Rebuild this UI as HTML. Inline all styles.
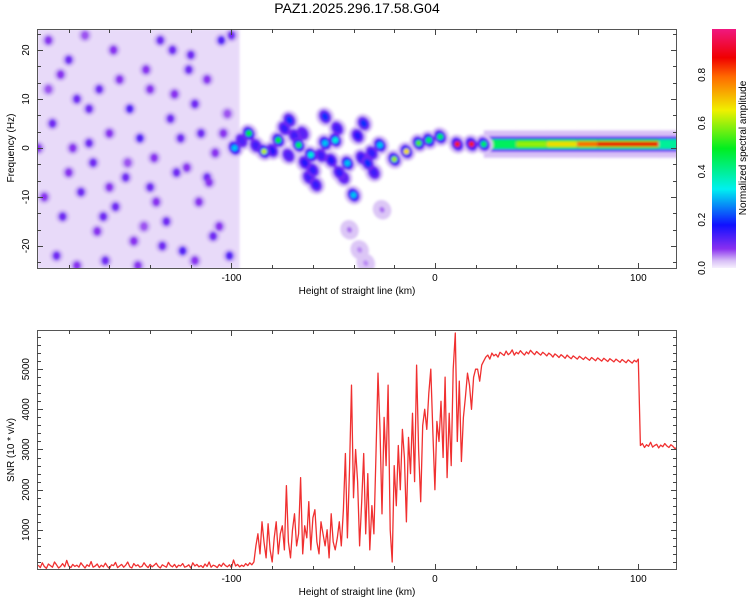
<!DOCTYPE html>
<html><head><meta charset="utf-8"><style>
html,body{margin:0;padding:0;background:#fff;width:750px;height:600px;overflow:hidden}
svg{display:block;font-family:"Liberation Sans",sans-serif}
</style></head><body>
<svg id="c" width="750" height="600" viewBox="0 0 750 600" xmlns="http://www.w3.org/2000/svg">
<defs>
<filter id="blur" x="-50%" y="-50%" width="200%" height="200%"><feGaussianBlur stdDeviation="1.2"/></filter>
<clipPath id="clipTop"><rect x="37" y="29" width="640" height="240"/></clipPath>
<clipPath id="clipBot"><rect x="37" y="330" width="640" height="240"/></clipPath>
<linearGradient id="cbar" x1="0" y1="1" x2="0" y2="0">
<stop offset="0" stop-color="#f6f0fd"/><stop offset="0.03" stop-color="#d8c0f6"/>
<stop offset="0.08" stop-color="#8a30f0"/><stop offset="0.18" stop-color="#1010ff"/>
<stop offset="0.33" stop-color="#00f0f0"/><stop offset="0.5" stop-color="#00ee20"/>
<stop offset="0.66" stop-color="#f0f000"/><stop offset="0.8" stop-color="#ff6a00"/>
<stop offset="0.88" stop-color="#f00000"/><stop offset="1" stop-color="#f01880"/>
</linearGradient>
</defs>
<text x="357" y="13" font-size="14" text-anchor="middle">PAZ1.2025.296.17.58.G04</text>
<g id="topPanel"></g>
<g id="botPanel"></g>
<g id="cbPanel"></g>
</svg>
<script>
// ---- data ----
const xDomain = [-195.6, 119];
const fDomain = [-24.7, 24.3];
const snrDomain = [0, 5975];
const xTicks = [-100, 0, 100];
const fTicks = [-20, -10, 0, 10, 20];
const snrTicks = [1000, 2000, 3000, 4000, 5000];
const cbTicks = [0.0, 0.2, 0.4, 0.6, 0.8];
// noise blobs
const noiseKm = [-190,-180,-172,-165,-158,-150,-142,-135,-128,-120,-112,-105,-100,-188,-178,-168,-160,-152,-145,-138,-130,-122,-115,-108,-102,-192,-183,-174,-166,-157,-148,-140,-132,-124,-116,-109,-101,-186,-176,-162,-146,-134,-118,-190,-170,-155,-125,-112,-180,-160,-140,-118,-184,-163,-137,-121,-106,-176,-151,-129,-111,-195,-170,-143,-127,-104];
const noiseHz = [22,18,23,12,20,8,16,22,11,19,14,22,23,5,0,-3,3,-6,2,-2,6,-4,3,-1,7,-10,-14,-9,-17,-12,-19,-8,-15,-21,-11,-18,-22,-22,-24,-23,-24,-20,-23,12,8,14,2,-6,-5,-8,12,9,15,-14,-11,16,-16,10,-3,20,-7,0,1,-16,-5,3,-8];
const noiseAmp = [.15,.2,.12,.2,.15,.25,.15,.2,.15,.2,.15,.25,.2,.2,.15,.2,.15,.2,.25,.15,.2,.15,.2,.15,.12,.15,.2,.2,.15,.2,.15,.2,.2,.25,.15,.2,.25,.2,.15,.2,.15,.2,.15,.12,.2,.15,.2,.2,.15,.15,.15,.2,.15,.2,.15,.2,.15,.2,.12,.2,.15,.15,.2,.12,.2,.15];
// signal blobs
const sigKm = [-91.5,-98.5,-84,-77,-71.5,-67,-61,-60,-58.5,-54,-49,-54,-43,-40,-35,-27,-33,-20,-14,-8,-3,2.6,11,18,24,-26,-42,-37,-34,-45,-65,-30,-74,-69,-64,-56,-51,-47,-38,-31,-88,-80,-95,-72,-62,-48,-36];
const sigHz = [3.0,0,-0.7,1.6,5.7,0.6,-1.4,-4.5,-7.5,6.4,1.6,1.0,-3.1,-9.6,5.0,0.6,-3.1,-2.3,-0.7,1.0,1.6,2.3,0.8,0.8,0.8,-12.6,-16.7,-20.8,-23.5,-6,3,-5,4,2.5,-3,-1.5,-2.5,-5,2.5,-1,0.5,-0.5,1.5,-1.5,-6,4,-2];
const sigAmp = [0.5,0.3,0.62,0.5,0.2,0.45,0.35,0.15,0.15,0.2,0.35,0.3,0.3,0.3,0.2,0.3,0.2,0.6,0.68,0.55,0.45,0.45,0.86,0.86,0.45,0.06,0.06,0.05,0.05,0.12,0.12,0.14,0.15,0.14,0.16,0.14,0.16,0.15,0.16,0.15,0.14,0.16,0.13,0.13,0.14,0.14,0.15];
// ridge segments along 0.8 Hz
const ridgeStart = [24,40,55,70,80,110];
const ridgeEnd = [40,55,70,80,110,119];
const ridgeAmp = [0.45,0.6,0.68,0.8,0.88,0.4];
const ridgeHz = 0.8;
// SNR series, 1 km steps starting at -195
const snrStart = -195;
const snrVals = [
120,60,180,90,40,150,110,70,200,130,50,90,160,80,240,100,60,140,90,120,
70,180,110,50,130,90,210,70,100,150,60,120,80,170,90,40,130,110,190,60,
100,140,70,120,200,80,50,160,100,130,70,90,180,110,60,140,80,120,170,90,
50,130,100,70,190,110,80,140,60,120,100,160,70,90,130,50,180,100,140,80,
110,60,150,90,200,70,120,100,60,140,90,170,110,80,130,60,250,100,140,80,
120,90,160,110,180,130,200,
600,900,400,1200,700,300,1150,500,
200,800,1200,400,900,1100,500,2100,700,300,1000,1400,600,900,2300,400,1100,800,1700,500,1300,1500,700,400,1200,900,600,1000,300,1400,700,500,800,1200,600,
1500,2900,800,2500,4600,1800,3000,2200,600,1700,2900,900,2400,500,1600,900,2800,4900,3500,1400,3800,2600,4600,1000,200,
2600,1600,3100,2000,3500,2800,1200,3300,2400,3900,2200,5100,3000,1700,3600,4000,3500,4400,5000,3400,
2000,3700,3200,4200,2800,4800,2300,3900,2600,5000,5900,3200,4700,2700,3800,4300,4900,4600,4000,4800,5000,5000,4700,5100,5200,
5300,5350,5250,5400,5330,5370,5300,5420,5380,5340,5450,5360,5400,5480,5350,5420,5380,5460,5400,5350,
5430,5380,5470,5410,5360,5440,5390,5350,5420,5380,5330,5400,5360,5300,5380,5340,5290,5360,5320,5270,
5350,5300,5260,5330,5290,5250,5320,5280,5240,5300,5260,5220,5290,5250,5210,5280,5240,5200,5270,5230,
5190,5260,5220,5180,5250,5210,5170,5240,5200,5160,5230,5190,5150,5220,5180,5250,
3100,3150,3050,3120,3080,3180,3060,3100,3130,3040,3110,3070,3150,3090,3050,3120,3080,3020,3060];

// ---- helpers ----
const NS = "http://www.w3.org/2000/svg";
function mk(tag, attrs, parent){const e=document.createElementNS(NS,tag);for(const k in attrs)e.setAttribute(k,attrs[k]);parent.appendChild(e);return e;}
const L=37,R=677,TT=29,TB=269,BT=330,BB=570;
const xs = v => L + (v - xDomain[0]) / (xDomain[1]-xDomain[0]) * (R-L);
const fy = v => TB - (v - fDomain[0]) / (fDomain[1]-fDomain[0]) * (TB-TT);
const sy = v => BB - (v - snrDomain[0]) / (snrDomain[1]-snrDomain[0]) * (BB-BT);
const stops=[[0,[246,240,253]],[0.03,[216,192,246]],[0.08,[138,48,240]],[0.18,[16,16,255]],[0.33,[0,240,240]],[0.5,[0,238,32]],[0.66,[240,240,0]],[0.8,[255,106,0]],[0.88,[240,0,0]],[1,[240,24,128]]];
function cmap(a){for(let i=1;i<stops.length;i++){if(a<=stops[i][0]){const [a0,c0]=stops[i-1],[a1,c1]=stops[i];const t=(a-a0)/(a1-a0);return 'rgb('+c0.map((c,j)=>Math.round(c+(c1[j]-c)*t)).join(',')+')';}}return 'rgb(240,24,128)';}

// ---- top panel ----
const topG=document.getElementById('topPanel');
const heat=mk('g',{'clip-path':'url(#clipTop)',filter:'url(#blur)'},topG);


const bg=mk('rect',{x:L,y:TT,width:xs(-96)-L,height:TB-TT,fill:'#e8daf9'},heat);


for(let i=0;i<noiseKm.length;i++){
  const h=mk('ellipse',{cx:xs(noiseKm[i]),cy:fy(noiseHz[i]),rx:7,ry:7,fill:'#d2b8f4'},heat);
  
  
}
for(let i=0;i<noiseKm.length;i++){
  const e=mk('ellipse',{cx:xs(noiseKm[i]),cy:fy(noiseHz[i]),rx:4,ry:4.5,fill:cmap(0.02+noiseAmp[i]*0.4)},heat);
  
  
}
// ridge layers
for(let i=0;i<ridgeStart.length;i++){
  const x0=xs(ridgeStart[i]),x1=xs(ridgeEnd[i]);
  [[2.8,0.03],[1.6,0.09],[1.3,0.18],[1.0,Math.min(ridgeAmp[i],0.5)],[0.5,ridgeAmp[i]]].forEach(([w,a])=>{
    const r=mk('rect',{x:x0,y:fy(ridgeHz+w),width:x1-x0+1,height:fy(ridgeHz-w)-fy(ridgeHz+w),fill:cmap(a)},heat);
    
    
  });
}
const order=sigAmp.map((a,i)=>i).sort((a,b)=>sigAmp[a]-sigAmp[b]);
order.forEach(i=>{
  const cx=xs(sigKm[i]),cy=fy(sigHz[i]);
  const h=mk('ellipse',{cx:cx,cy:cy,rx:9,ry:10,fill:'#dcc6f6',transform:`rotate(-30 ${cx} ${cy})`},heat);
  
  
});
order.forEach(i=>{
  const cx=xs(sigKm[i]),cy=fy(sigHz[i]),a=sigAmp[i];
  const rot=`rotate(-30 ${cx} ${cy})`;
  if(a>0.1){
    const p=mk('ellipse',{cx:cx,cy:cy,rx:6,ry:7.5,fill:cmap(0.1),transform:rot},heat);
    
    
  }
  if(a>0.25){
    const b=mk('ellipse',{cx:cx,cy:cy,rx:4.5,ry:5.5,fill:cmap(0.19),transform:rot},heat);
    
    
  }
  const c=mk('ellipse',{cx:cx,cy:cy,rx:a>0.25?3:(a>0.1?3.5:2.5),ry:a>0.25?3:(a>0.1?4.5:3),fill:cmap(a),transform:rot},heat);
  
  
});

function frame(parent,t,b,name){
  const r=mk('rect',{x:L+0.5,y:t+0.5,width:R-L-1,height:b-t-1,fill:'none',stroke:'#555','stroke-width':1},parent);
  
  
  for(let v=-180;v<=119;v+=20){
    const x=Math.round(xs(v))+0.5, len=(v%100===0)?6:4;
    mk('line',{x1:x,y1:b,x2:x,y2:b-len,stroke:'#444'},parent);
    mk('line',{x1:x,y1:t,x2:x,y2:t+len,stroke:'#444'},parent);
  }
  xTicks.forEach(v=>{
    const tx=mk('text',{x:xs(v),y:b+12,'font-size':10,'text-anchor':'middle'},parent);
    tx.textContent=String(v);
    
    
  });
  const xl=mk('text',{x:357,y:b+25,'font-size':10,'text-anchor':'middle'},parent);
  xl.textContent='Height of straight line (km)';
  
  
}
frame(topG,TT,TB,'top-plot-frame');
for(let v=-70/3;v<=24;v+=10/3){
  const y=Math.round(fy(v))+0.5, major=Math.abs(v-Math.round(v/10)*10)<0.01, len=major?6:4;
  mk('line',{x1:L,y1:y,x2:L+len,y2:y,stroke:'#444'},topG);
  mk('line',{x1:R,y1:y,x2:R-len,y2:y,stroke:'#444'},topG);
}
fTicks.forEach(v=>{
  const tx=mk('text',{x:0,y:0,'font-size':10,'text-anchor':'middle',transform:`translate(29,${fy(v)}) rotate(-90)`},topG);
  tx.textContent=String(v);
  
  
});
const fyl=mk('text',{x:0,y:0,'font-size':10,'text-anchor':'middle',transform:`translate(14,${fy(0)}) rotate(-90)`},topG);
fyl.textContent='Frequency (Hz)';



// ---- colorbar ----
const cbG=document.getElementById('cbPanel');
const cbT=29,cbB=268;
const cby=v=>cbB-v/0.99*(cbB-cbT);
const cr=mk('rect',{x:712,y:cbT,width:24,height:cbB-cbT,fill:'url(#cbar)'},cbG);


cbTicks.forEach(v=>{
  const tx=mk('text',{x:0,y:0,'font-size':10,'text-anchor':'middle',transform:`translate(705,${cby(v)}) rotate(-90)`},cbG);
  tx.textContent=v.toFixed(1);
  
  
});
const cbl=mk('text',{x:0,y:0,'font-size':10,'text-anchor':'middle',transform:`translate(746,148) rotate(-90)`},cbG);
cbl.textContent='Normalized spectral amplitude';



// ---- bottom panel ----
const botG=document.getElementById('botPanel');
let d='';
snrVals.forEach((v,i)=>{d+=(i?'L':'M')+xs(snrStart+i).toFixed(1)+' '+sy(v).toFixed(1);});
const g=mk('g',{'clip-path':'url(#clipBot)'},botG);
const ln=mk('path',{d:d,fill:'none',stroke:'#f03030','stroke-width':1.3,'stroke-linejoin':'round'},g);


frame(botG,BT,BB,'bottom-plot-frame');
for(let v=200;v<=5975;v+=200){
  const y=Math.round(sy(v))+0.5, len=(v%1000===0)?6:4;
  mk('line',{x1:L,y1:y,x2:L+len,y2:y,stroke:'#444'},botG);
  mk('line',{x1:R,y1:y,x2:R-len,y2:y,stroke:'#444'},botG);
}
snrTicks.forEach(v=>{
  const tx=mk('text',{x:0,y:0,'font-size':10,'text-anchor':'middle',transform:`translate(29,${sy(v)}) rotate(-90)`},botG);
  tx.textContent=String(v);
  
  
});
const syl=mk('text',{x:0,y:0,'font-size':10,'text-anchor':'middle',transform:`translate(14,450) rotate(-90)`},botG);
syl.textContent='SNR (10 * v/v)';


</script>
</body></html>
